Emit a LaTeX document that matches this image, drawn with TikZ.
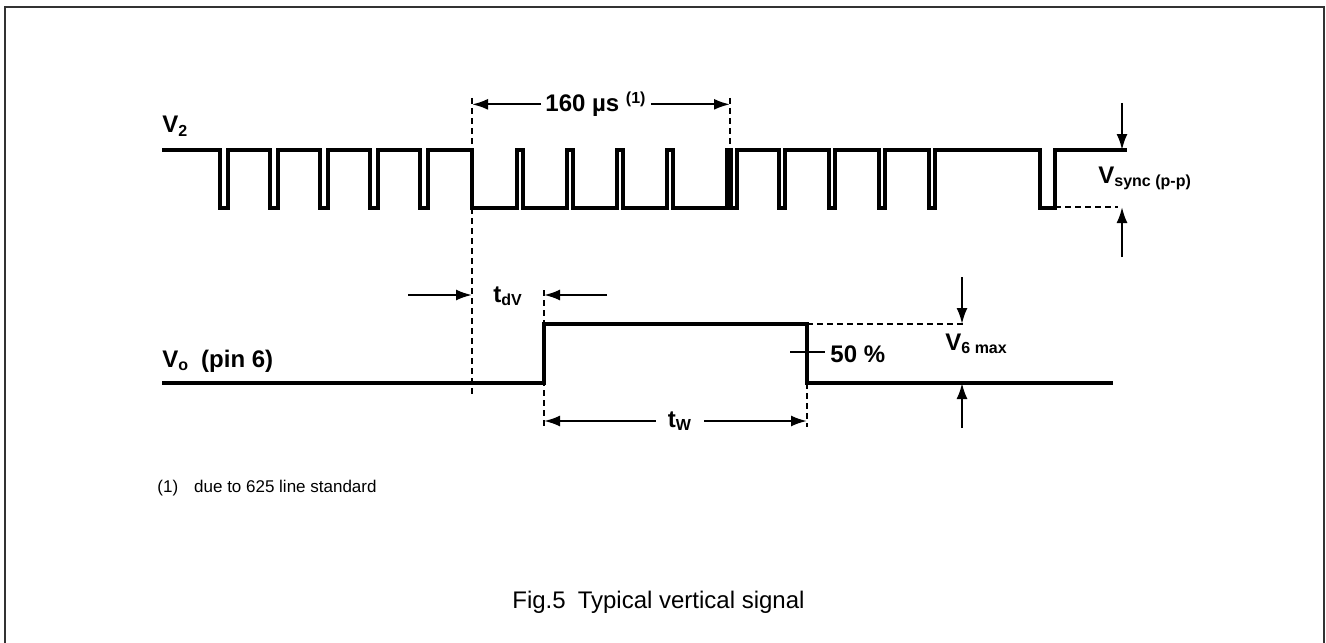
\documentclass[tikz,border=0pt]{standalone}
\usepackage{fontspec}
\setmainfont{Liberation Sans}
\usetikzlibrary{
    arrows.meta
}

\begin{document}
\begin{tikzpicture}[x=0.5pt,y=-0.5pt,>={Latex[length=8pt,width=5.5pt]},line join=miter]
    \tikzstyle{wave}=[line width=1.6pt]
    \tikzstyle{guide}=[line width=1.2pt, dash pattern=on 3pt off 2pt]
    \tikzstyle{dim}=[line width=1.1pt, ->]
    \tikzstyle{lbl}=[font=\fontsize{12}{14}\selectfont\bfseries, inner sep=0pt]

    \useasboundingbox (0,0) rectangle (1326,642);
    \draw[line width=1pt, draw=black!80] (4.5,7.5) rectangle (1324,660);

    % V2 pulse train
    \draw[wave] (162,150)
        foreach \x in {220,270,320,370,420} { -- (\x,150) -- (\x,208) -- (\x+8,208) -- (\x+8,150) }
        -- (472,150) -- (472,208)
        foreach \x in {517,567,617,667} { -- (\x,208) -- (\x,150) -- (\x+6,150) -- (\x+6,208) }
        -- (727,208) -- (727,150) -- (731,150) -- (731,208) -- (737,208) -- (737,150)
        foreach \x in {779,829,879,929} { -- (\x,150) -- (\x,208) -- (\x+6,208) -- (\x+6,150) }
        -- (1040,150) -- (1040,208) -- (1055,208) -- (1055,150) -- (1127,150);

    % output pulse
    \draw[wave] (162,383) -- (544,383) -- (544,324) -- (807,324) -- (807,383) -- (1113,383);

    % guide lines
    \draw[guide] (472,98) -- (472,395);
    \draw[guide] (730,98) -- (730,150);
    \draw[guide] (544,290) -- (544,427);
    \draw[guide] (807,383) -- (807,427);
    \draw[guide] (807,324) -- (965,324);
    \draw[guide] (1055,207) -- (1118,207);

    % labels
    \node[lbl, anchor=base west] (V2) at (162,133) {V\textsubscript{2}};
    \node[lbl, anchor=base west] (Vo) at (162,367) {V\textsubscript{o}\hspace{6pt}(pin 6)};
    \node[lbl, anchor=base west, inner xsep=2pt] (mus) at (541,112) {160 µs \textsuperscript{(1)}};
    \node[lbl, anchor=base west] (tdv) at (493,302) {t\textsubscript{dV}};
    \node[lbl, inner xsep=6pt] (tw) at (680,421) {t\textsubscript{W}};
    \node[lbl, anchor=base west] (pct) at (830,362) {50 \%};
    \node[lbl, anchor=base west] (v6) at (945,350) {V\textsubscript{6 max}};
    \node[lbl, anchor=base west] (vsync) at (1098,183) {V\textsubscript{sync (p-p)}};

    % dimension arrows
    \coordinate (s1) at (472,103);
    \coordinate (s2) at (730,103);
    \draw[dim] (mus.west) -- (s1 |- mus.west);
    \draw[dim] (mus.east) -- (s2 |- mus.east);

    \coordinate (d1) at (408,295);
    \coordinate (d2) at (472,295);
    \coordinate (d3) at (607,295);
    \coordinate (d4) at (544,295);
    \draw[dim] (d1) -- (d2);
    \draw[dim] (d3) -- (d4);

    \coordinate (w1) at (544,421);
    \coordinate (w2) at (807,421);
    \draw[dim] (tw.west) -- (w1);
    \draw[dim] (tw.east) -- (w2);

    \coordinate (h1) at (790,352);
    \coordinate (h2) at (825,352);
    \draw[line width=1.1pt] (h1) -- (h2);

    \coordinate (a1) at (962,277);
    \coordinate (a2) at (962,324);
    \coordinate (a3) at (962,428);
    \coordinate (a4) at (962,383);
    \draw[dim] (a1) -- (a2);
    \draw[dim] (a3) -- (a4);

    \coordinate (b1) at (1122,103);
    \coordinate (b2) at (1122,150);
    \coordinate (b3) at (1122,257);
    \coordinate (b4) at (1122,207);
    \draw[dim] (b1) -- (b2);
    \draw[dim] (b3) -- (b4);

    % footnote and caption
    \node[font=\fontsize{8.5}{10}\selectfont, anchor=base west, inner sep=0pt] (note) at (157,492) {(1)\hspace{8pt}due to 625 line standard};
    \node[font=\fontsize{12}{14}\selectfont, anchor=base west, inner sep=0pt] (cap) at (512,608) {Fig.5\hspace{6pt}Typical vertical signal};
\end{tikzpicture}
\end{document}
